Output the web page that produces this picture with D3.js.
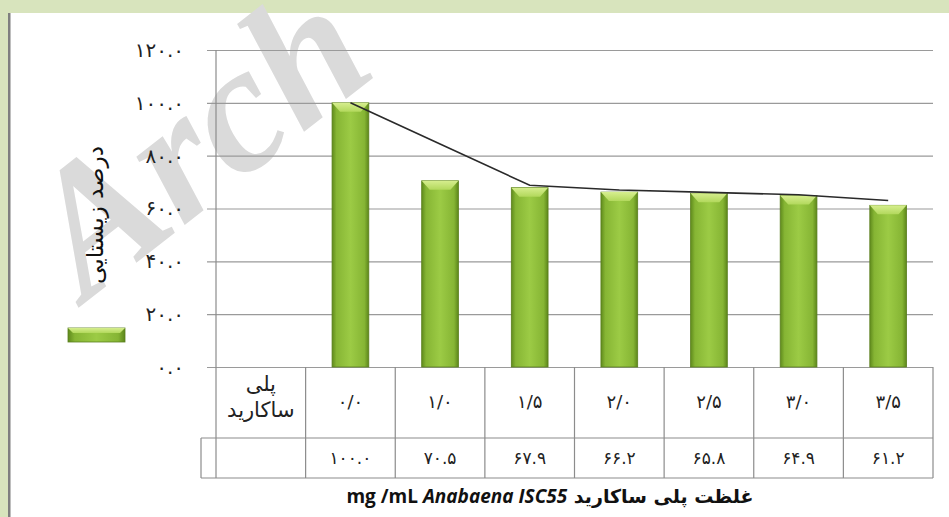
<!DOCTYPE html>
<html>
<head>
<meta charset="utf-8">
<script src="https://cdn.jsdelivr.net/npm/d3@7"></script>
<style>
  html, body { margin: 0; padding: 0; background: #fff; }
  svg { display: block; }
</style>
</head>
<body>
<svg id="chart" width="949" height="517"></svg>
<script>
// concentration of polysaccharide (mg/mL), shown in Persian digits
const concentrations = ["۰/۰", "۱/۰", "۱/۵", "۲/۰", "۲/۵", "۳/۰", "۳/۵"];
// survival percent
const survival = [100.0, 70.5, 67.9, 66.2, 65.8, 64.9, 61.2];
// black trend line
const trend = [100.0, 84.4, 68.8, 67.0, 66.1, 65.2, 63.0];
const yTicks = [0, 20, 40, 60, 80, 100, 120];

const faDigits = "۰۱۲۳۴۵۶۷۸۹";
const toFa = s => String(s).replace(/[0-9]/g, c => faDigits[+c]);

const svg = d3.select("#chart"),
  W = 949,
  H = 517;

const plotL = 216,
  plotR = 933,
  plotT = 50,
  plotB = 367,
  row1 = 438,
  row2 = 478;

const x = d3
  .scaleBand()
  .domain(["key"].concat(concentrations))
  .range([plotL, plotR])
  .padding(0);

const y = d3
  .scaleLinear()
  .domain([0, 120])
  .range([plotB, plotT]);

const faFont = "'DejaVu Sans', sans-serif";

// frame decoration
svg.append("rect").attr("x", 0).attr("y", 0).attr("width", W).attr("height", 13).attr("fill", "#d8e4bd");
svg.append("rect").attr("x", 0).attr("y", 0).attr("width", 8).attr("height", H).attr("fill", "#d8e4bd");
svg.append("rect").attr("x", 8).attr("y", 13).attr("width", 2.5).attr("height", H - 13).attr("fill", "#7f7f7f");

// gradients for the bevelled bars
const defs = svg.append("defs");
const body = defs.append("linearGradient").attr("id", "barBody").attr("x1", "0").attr("x2", "1").attr("y1", "0").attr("y2", "0");
[
  [0, "#5f8a1c"],
  [0.12, "#86b534"],
  [0.5, "#9ccb45"],
  [0.88, "#86b534"],
  [1, "#5c861a"]
].forEach(s => body.append("stop").attr("offset", s[0]).attr("stop-color", s[1]));
const cap = defs.append("linearGradient").attr("id", "barCap").attr("x1", "0").attr("x2", "0").attr("y1", "0").attr("y2", "1");
[
  [0, "#d6ee8e"],
  [1, "#b2d85c"]
].forEach(s => cap.append("stop").attr("offset", s[0]).attr("stop-color", s[1]));

// watermark (drawn first, sits behind the chart lines)
svg
  .append("text")
  .attr("transform", "translate(86,302) rotate(-38)")
  .attr("font-family", "'Liberation Serif', serif")
  .attr("font-weight", "bold")
  .attr("font-style", "italic")
  .attr("font-size", 182)
  .attr("fill", "#dadada")
  .text("Arch");

// y axis with gridlines
const yAxis = svg
  .append("g")
  .attr("transform", "translate(207,0)")
  .call(
    d3
      .axisLeft(y)
      .tickValues(yTicks)
      .tickSizeInner(-(plotR - 207))
      .tickSizeOuter(0)
      .tickPadding(23)
      .tickFormat(d => toFa(d.toFixed(1)))
  );
yAxis.select(".domain").remove();
yAxis.selectAll(".tick line").attr("stroke", "#9a9a9a").attr("stroke-width", 1.2);
yAxis
  .selectAll(".tick text")
  .attr("font-family", faFont)
  .attr("font-size", 20)
  .attr("fill", "#222")
  .attr("letter-spacing", 1.5);

// vertical axis line (runs down through the table)
svg.append("line").attr("x1", plotL).attr("x2", plotL).attr("y1", plotT).attr("y2", row2).attr("stroke", "#8c8c8c").attr("stroke-width", 1.2);

// bars
const bw = x.bandwidth() * 0.41;
const bars = svg
  .append("g")
  .selectAll("g")
  .data(concentrations.map((c, i) => ({ c, v: survival[i] })))
  .join("g")
  .attr("transform", d => "translate(" + (x(d.c) + (x.bandwidth() - bw) / 2) + ",0)");

bars
  .append("rect")
  .attr("x", 0)
  .attr("y", d => y(d.v))
  .attr("width", bw)
  .attr("height", d => plotB - y(d.v))
  .attr("fill", "url(#barBody)")
  .attr("stroke", "#5a7f1e")
  .attr("stroke-width", 0.8);

bars
  .append("path")
  .attr("d", d => {
    const t = y(d.v);
    return "M0," + t + "L" + bw + "," + t + "L" + (bw - 8) + "," + (t + 9) + "L8," + (t + 9) + "Z";
  })
  .attr("fill", "url(#barCap)");

// trend line
const line = d3
  .line()
  .x((d, i) => x(concentrations[i]) + x.bandwidth() / 2)
  .y(d => y(d));
svg.append("path").datum(trend).attr("d", line).attr("fill", "none").attr("stroke", "#2a2a2a").attr("stroke-width", 1.6);

// data table below the plot
const tbl = svg.append("g").attr("stroke", "#8c8c8c").attr("stroke-width", 1.2);
tbl.append("line").attr("x1", 201).attr("x2", plotR).attr("y1", row1).attr("y2", row1);
tbl.append("line").attr("x1", 201).attr("x2", plotR).attr("y1", row2).attr("y2", row2);
tbl.append("line").attr("x1", 201).attr("x2", 201).attr("y1", row1).attr("y2", row2);
tbl
  .selectAll("line.col")
  .data(concentrations)
  .join("line")
  .attr("class", "col")
  .attr("x1", d => x(d))
  .attr("x2", d => x(d))
  .attr("y1", plotB)
  .attr("y2", row2);
tbl.append("line").attr("x1", plotR).attr("x2", plotR).attr("y1", plotB).attr("y2", row2);

svg
  .append("g")
  .selectAll("text")
  .data(concentrations)
  .join("text")
  .attr("x", d => x(d) + x.bandwidth() / 2)
  .attr("y", 408)
  .attr("text-anchor", "middle")
  .attr("font-family", faFont)
  .attr("font-size", 18)
  .attr("fill", "#222")
  .attr("letter-spacing", 1)
  .text(d => d);

svg
  .append("g")
  .selectAll("text")
  .data(survival)
  .join("text")
  .attr("x", (d, i) => x(concentrations[i]) + x.bandwidth() / 2)
  .attr("y", 464)
  .attr("text-anchor", "middle")
  .attr("font-family", faFont)
  .attr("font-size", 17)
  .attr("fill", "#222")
  .attr("letter-spacing", 1.5)
  .text(d => toFa(d.toFixed(1)));

const keyX = x("key") + x.bandwidth() / 2;
svg.append("text").attr("x", keyX).attr("y", 391).attr("text-anchor", "middle").attr("font-family", faFont).attr("font-size", 21).attr("fill", "#222").text("پلی");
svg.append("text").attr("x", keyX).attr("y", 417).attr("text-anchor", "middle").attr("font-family", faFont).attr("font-size", 21).attr("fill", "#222").text("ساکارید");

// legend key
svg.append("rect").attr("x", 68).attr("y", 328).attr("width", 57).attr("height", 14).attr("fill", "url(#barBody)").attr("stroke", "#5a7f1e").attr("stroke-width", 0.8);
svg.append("path").attr("d", "M68,328L125,328L120,333L73,333Z").attr("fill", "url(#barCap)");

// y title
svg
  .append("text")
  .attr("transform", "translate(103,215) rotate(-90)")
  .attr("text-anchor", "middle")
  .attr("font-family", faFont)
  .attr("font-size", 23)
  .attr("fill", "#111")
  .text("درصد زیستایی");

// x title
const xt = svg
  .append("text")
  .attr("x", 550)
  .attr("y", 503)
  .attr("text-anchor", "middle")
  .attr("font-family", "'Open Sans', sans-serif")
  .attr("font-weight", "bold")
  .attr("font-size", 19)
  .attr("fill", "#111");
xt.append("tspan").text("mg /mL  ");
xt.append("tspan").attr("font-style", "italic").text("Anabaena ISC55");
xt.append("tspan").attr("font-family", faFont).text(" غلظت پلی ساکارید");
</script>
</body>
</html>
